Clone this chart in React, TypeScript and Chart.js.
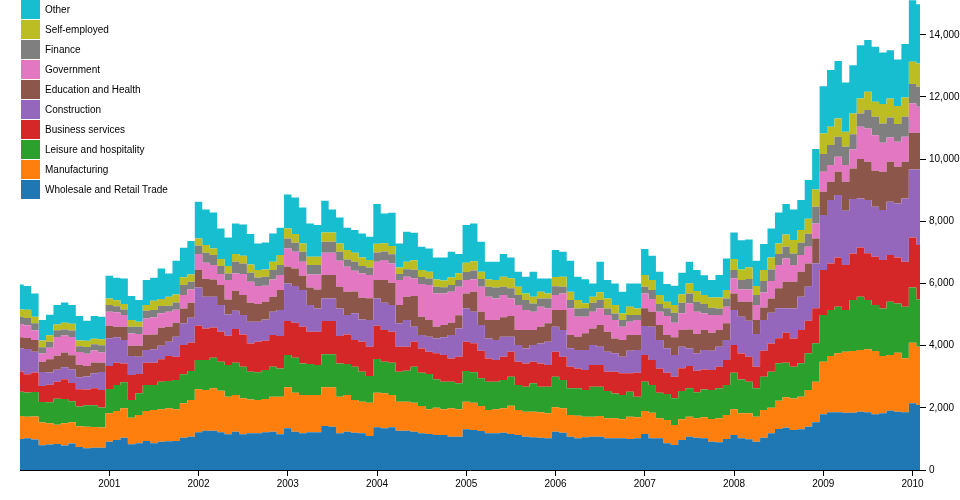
import React, { useEffect, useRef } from "react";
import { Chart, registerables } from "chart.js";

Chart.register(...registerables);

// Monthly observations, Jan 2000 .. Feb 2010 (thousands of unemployed)
const months: string[] = [];
for (let y = 2000; y <= 2010; y++) {
  for (let m = 1; m <= 12; m++) {
    if (y === 2010 && m > 2) break;
    months.push(`${y}-${String(m).padStart(2, "0")}`);
  }
}

const wholesale = [
  1000, 1023, 983, 793, 821, 837, 792, 853, 739, 701, 715, 715,
  911, 965, 1040, 825, 858, 933, 858, 911, 922, 933, 1040, 1072,
  1211, 1265, 1265, 1211, 1147, 1233, 1147, 1179, 1179, 1211, 1233, 1147,
  1340, 1233, 1179, 1211, 1211, 1415, 1394, 1179, 1233, 1201, 1179, 1093,
  1372, 1340, 1372, 1265, 1265, 1233, 1179, 1158, 1126, 1126, 1072, 1072,
  1308, 1286, 1254, 1179, 1179, 1201, 1158, 1126, 1072, 1051, 1040, 1018,
  1233, 1201, 1072, 1018, 1051, 1072, 1072, 1018, 1018, 1018, 997, 1018,
  1158, 1018, 1018, 858, 804, 965, 1072, 1040, 1018, 911, 890, 997,
  1126, 1018, 986, 911, 1040, 1179, 1319, 1361, 1286, 1308, 1394, 1533,
  1790, 1855, 1855, 1844, 1844, 1876, 1855, 1790, 1822, 1908, 1876, 1855,
  2144, 2090,
];
const manufacturing = [
  734, 694, 739, 736, 685, 621, 708, 685, 667, 693, 672, 653,
  911, 933, 943, 858, 911, 965, 1072, 1040, 1061, 1018, 1104, 1179,
  1383, 1308, 1361, 1340, 1211, 1179, 1158, 1093, 1072, 1072, 1126, 1211,
  1319, 1254, 1233, 1201, 1201, 1244, 1265, 1179, 1179, 1051, 1018, 1072,
  1115, 1126, 1040, 933, 933, 933, 879, 793, 879, 825, 911, 879,
  890, 879, 804, 750, 772, 783, 911, 804, 804, 825, 815, 804,
  783, 783, 697, 729, 665, 643, 665, 643, 643, 611, 718, 675,
  740, 825, 643, 750, 643, 665, 643, 622, 675, 729, 772, 772,
  825, 804, 836, 804, 890, 825, 911, 976, 1018, 1051, 1179, 1308,
  1694, 1812, 1897, 1962, 1983, 1983, 2026, 2037, 1844, 1790, 1897, 1737,
  1951, 1876,
];
const leisure = [
  782, 779, 789, 658, 675, 833, 786, 675, 636, 691, 694, 639,
  783, 836, 836, 568, 697, 836, 804, 890, 879, 943, 933, 933,
  943, 965, 986, 933, 1018, 1040, 1018, 890, 890, 933, 965, 911,
  1040, 1126, 1018, 997, 965, 1061, 1061, 1072, 997, 1072, 965, 858,
  1083, 1018, 1040, 965, 997, 1158, 1072, 1136, 911, 890, 858, 836,
  986, 976, 890, 911, 890, 911, 933, 804, 804, 911, 825, 858,
  986, 911, 858, 879, 858, 965, 943, 879, 804, 783, 804, 665,
  943, 890, 825, 836, 858, 911, 911, 836, 900, 933, 965, 965,
  1179, 1093, 1018, 911, 1072, 1158, 1201, 1115, 1018, 1072, 1179, 1233,
  1501, 1479, 1501, 1340, 1640, 1715, 1587, 1479, 1533, 1715, 1587, 1662,
  1780, 1522,
];
const business = [
  655, 587, 623, 517, 561, 545, 636, 584, 559, 504, 547, 564,
  740, 718, 611, 804, 622, 718, 718, 718, 804, 750, 943, 911,
  1104, 1018, 976, 965, 943, 1083, 1040, 911, 986, 943, 1018, 1040,
  1093, 1126, 1179, 1040, 1072, 1072, 1072, 879, 954, 858, 965, 943,
  1072, 1018, 997, 804, 772, 804, 782, 718, 836, 858, 750, 858,
  943, 933, 890, 750, 697, 750, 804, 750, 750, 697, 750, 697,
  804, 750, 697, 643, 643, 697, 697, 622, 697, 697, 590, 772,
  858, 804, 783, 686, 697, 729, 718, 697, 643, 643, 697, 804,
  890, 836, 804, 697, 836, 911, 804, 965, 911, 1072, 1051, 1126,
  1447, 1501, 1587, 1447, 1501, 1587, 1501, 1554, 1554, 1501, 1479, 1447,
  1608, 1747,
];
const construction = [
  745, 812, 669, 447, 397, 389, 384, 446, 386, 417, 482, 580,
  890, 815, 750, 611, 557, 407, 429, 440, 461, 643, 697, 804,
  1233, 1018, 986, 858, 686, 590, 622, 697, 643, 686, 750, 836,
  1211, 1179, 1179, 858, 750, 729, 729, 890, 622, 858, 718, 858,
  879, 879, 858, 750, 858, 482, 429, 482, 482, 568, 750, 911,
  1072, 1018, 825, 643, 643, 643, 482, 536, 482, 536, 643, 750,
  804, 858, 590, 590, 643, 643, 590, 643, 590, 536, 729, 729,
  933, 1072, 911, 783, 697, 697, 568, 557, 622, 622, 643, 643,
  1126, 1179, 1158, 1051, 986, 986, 965, 783, 965, 1072, 1093, 1447,
  1769, 2037, 2005, 1747, 1747, 1576, 1715, 1608, 1608, 1715, 1737, 2037,
  2187, 2433,
];
const education = [
  353, 349, 381, 329, 423, 452, 478, 450, 398, 339, 351, 300,
  407, 343, 429, 332, 354, 482, 482, 579, 482, 450, 482, 482,
  557, 568, 557, 643, 482, 643, 643, 611, 568, 568, 482, 643,
  536, 568, 461, 568, 611, 750, 750, 700, 750, 700, 700, 700,
  590, 729, 718, 590, 750, 986, 590, 536, 375, 400, 400, 420,
  482, 643, 429, 590, 643, 622, 665, 482, 590, 480, 536, 590,
  536, 643, 429, 429, 536, 536, 697, 643, 482, 536, 504, 482,
  568, 482, 482, 429, 568, 536, 611, 622, 643, 579, 536, 536,
  536, 482, 611, 450, 407, 461, 643, 858, 858, 804, 750, 804,
  750, 590, 750, 933, 986, 1265, 1233, 1158, 1233, 1286, 1179, 1179,
  1179, 1179,
];
const government = [
  430, 409, 311, 269, 370, 603, 545, 583, 408, 391, 384, 330,
  450, 461, 375, 397, 375, 536, 547, 461, 482, 420, 429, 429,
  515, 525, 461, 354, 622, 557, 675, 675, 579, 515, 557, 482,
  590, 536, 450, 418, 482, 718, 718, 830, 804, 672, 779, 747,
  590, 643, 622, 804, 643, 568, 1051, 1126, 1072, 1015, 990, 920,
  429, 400, 804, 750, 697, 718, 568, 804, 643, 592, 643, 482,
  482, 536, 858, 643, 536, 536, 536, 536, 590, 429, 429, 482,
  482, 407, 429, 611, 472, 536, 836, 718, 536, 568, 482, 536,
  482, 397, 397, 482, 482, 560, 750, 750, 536, 536, 536, 482,
  643, 536, 483, 536, 611, 1040, 1072, 1147, 933, 783, 804, 804,
  943, 836,
];
const finance = [
  228, 240, 226, 197, 195, 216, 190, 213, 187, 224, 200, 236,
  214, 200, 182, 214, 236, 247, 236, 240, 193, 230, 322, 247,
  268, 322, 322, 257, 214, 375, 343, 289, 279, 289, 300, 322,
  322, 289, 322, 300, 300, 354, 354, 289, 236, 289, 236, 247,
  300, 280, 290, 193, 240, 280, 230, 215, 215, 200, 220, 215,
  260, 280, 250, 322, 354, 268, 322, 322, 322, 268, 268, 322,
  280, 214, 268, 268, 268, 289, 268, 214, 214, 214, 214, 161,
  214, 289, 247, 247, 322, 343, 322, 322, 300, 236, 214, 268,
  268, 300, 332, 322, 364, 372, 354, 375, 375, 397, 420, 536,
  568, 643, 643, 590, 493, 429, 590, 590, 622, 643, 568, 643,
  622, 643,
];
const selfEmployed = [
  239, 262, 213, 218, 206, 188, 222, 216, 183, 197, 180, 190,
  214, 190, 172, 214, 161, 182, 300, 220, 289, 260, 247, 236,
  236, 247, 214, 225, 236, 247, 247, 268, 236, 236, 268, 322,
  322, 279, 268, 268, 268, 300, 300, 268, 300, 289, 279, 236,
  280, 260, 270, 214, 240, 300, 220, 215, 235, 215, 240, 220,
  300, 300, 230, 236, 236, 322, 322, 268, 214, 214, 214, 161,
  300, 322, 268, 268, 161, 193, 250, 322, 268, 214, 268, 214,
  375, 322, 289, 214, 247, 268, 322, 343, 289, 332, 354, 268,
  354, 343, 375, 289, 354, 386, 343, 397, 429, 407, 480, 557,
  665, 590, 590, 482, 665, 482, 590, 482, 622, 611, 579, 622,
  718, 750,
];
const other = [
  805, 762, 748, 660, 663, 623, 651, 602, 790, 646, 728, 720,
  729, 725, 825, 772, 697, 804, 740, 987, 750, 1085, 954, 1072,
  1179, 1147, 1158, 986, 922, 986, 1008, 976, 858, 868, 911, 879,
  1093, 1179, 1158, 1072, 1018, 1018, 740, 840, 718, 729, 772, 750,
  1273, 961, 1069, 772, 967, 889, 751, 750, 708, 742, 831, 615,
  1209, 1218, 968, 568, 590, 729, 675, 482, 536, 804, 429, 482,
  867, 804, 997, 750, 772, 429, 983, 590, 697, 697, 750, 804,
  836, 783, 750, 568, 622, 697, 697, 675, 643, 557, 718, 1018,
  858, 943, 900, 815, 836, 933, 997, 976, 986, 965, 1244, 1297,
  1522, 1822, 1844, 1587, 1554, 1715, 1662, 1769, 1662, 1554, 1501, 1715,
  1983, 1911,
];

const seriesNames = [
  "Wholesale and Retail Trade",
  "Manufacturing",
  "Leisure and hospitality",
  "Business services",
  "Construction",
  "Education and Health",
  "Government",
  "Finance",
  "Self-employed",
  "Other",
];
const seriesValues = [
  wholesale, manufacturing, leisure, business, construction,
  education, government, finance, selfEmployed, other,
];
const seriesColors = [
  "#1f77b4", "#ff7f0e", "#2ca02c", "#d62728", "#9467bd",
  "#8c564b", "#e377c2", "#7f7f7f", "#bcbd22", "#17becf",
];

const yearLabels = ["2001", "2002", "2003", "2004", "2005", "2006", "2007", "2008", "2009", "2010"];
const yearTickMonths = yearLabels.map((y) => months.indexOf(`${y}-01`));
const yTickValues = [0, 2000, 4000, 6000, 8000, 10000, 12000, 14000];
const yMax = 15120;

const FONT = '"Liberation Sans", Arial, Helvetica, sans-serif';

export default function App() {
  const ref = useRef<HTMLCanvasElement | null>(null);

  useEffect(() => {
    if (!ref.current) return;
    const chart = new Chart(ref.current, {
      type: "line",
      data: {
        datasets: seriesValues.map((vals, i) => ({
          label: seriesNames[i],
          data: vals.map((v, j) => ({ x: j, y: v })),
          backgroundColor: seriesColors[i],
          borderColor: seriesColors[i],
          borderWidth: 0,
          pointRadius: 0,
          stepped: "middle" as const,
          fill: i === 0 ? "origin" : "-1",
        })),
      },
      options: {
        animation: false,
        responsive: false,
        maintainAspectRatio: false,
        events: [],
        layout: { padding: { left: 20, top: 0, right: 0, bottom: 0 } },
        plugins: {
          legend: { display: false },
          tooltip: { enabled: false },
        },
        scales: {
          x: {
            type: "linear",
            min: 0,
            max: months.length - 1,
            grid: {
              display: true,
              drawOnChartArea: false,
              drawTicks: true,
              tickLength: 6,
              color: "#000",
            },
            border: { display: true, color: "#000", width: 1 },
            ticks: {
              autoSkip: false,
              maxRotation: 0,
              padding: 2,
              color: "#000",
              font: { family: FONT, size: 10 },
              callback: (v: any) => {
                const k = yearTickMonths.indexOf(Number(v));
                return k >= 0 ? yearLabels[k] : "";
              },
            },
            afterBuildTicks: (s: any) => {
              s.ticks = yearTickMonths.map((v) => ({ value: v }));
            },
            afterFit: (s: any) => {
              s.height = 30;
              s.paddingLeft = 0;
              s.paddingRight = 0;
            },
          },
          y: {
            type: "linear",
            position: "right",
            stacked: true,
            min: 0,
            max: yMax,
            grid: {
              display: true,
              drawOnChartArea: false,
              drawTicks: true,
              tickLength: 6,
              color: "#000",
            },
            border: { display: false },
            ticks: {
              padding: 3,
              color: "#000",
              font: { family: FONT, size: 10 },
              callback: (v: any) =>
                String(v).replace(/\B(?=(\d{3})+(?!\d))/g, ","),
            },
            afterBuildTicks: (s: any) => {
              s.ticks = yTickValues.map((v) => ({ value: v }));
            },
            afterFit: (s: any) => {
              s.width = 40;
              s.paddingTop = 0;
              s.paddingBottom = 0;
            },
          },
        },
      },
    });
    return () => chart.destroy();
  }, []);

  const legendOrder = seriesNames.map((n, i) => i).reverse();

  return (
    <div
      style={{
        position: "absolute",
        left: 0,
        top: 0,
        width: 960,
        height: 500,
        background: "#fff",
      }}
    >
      <canvas ref={ref} width={960} height={500} style={{ display: "block" }} />
      <div style={{ position: "absolute", left: 21, top: 0 }}>
        {legendOrder.map((i) => (
          <div
            key={seriesNames[i]}
            style={{ display: "flex", alignItems: "center", height: 20 }}
          >
            <div
              style={{
                width: 19,
                height: 19,
                background: seriesColors[i],
                marginBottom: 1,
              }}
            />
            <span
              style={{
                marginLeft: 5,
                fontFamily: FONT,
                fontSize: 10,
                color: "#000",
                lineHeight: "19px",
                marginBottom: 1,
              }}
            >
              {seriesNames[i]}
            </span>
          </div>
        ))}
      </div>
    </div>
  );
}
